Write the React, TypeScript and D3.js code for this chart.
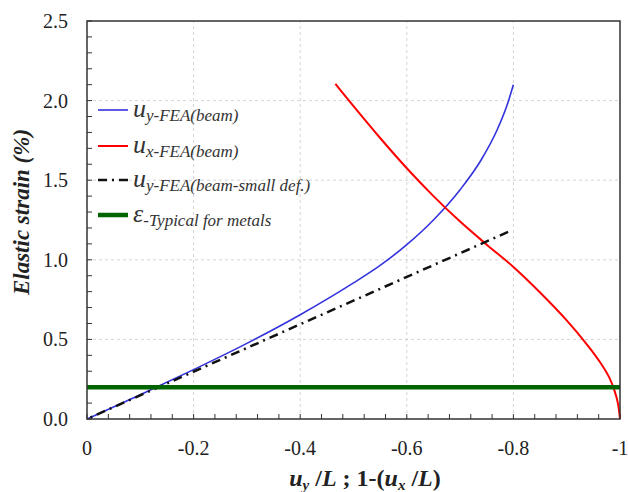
import { useEffect, useRef } from 'react';
import * as d3 from 'd3';

// u_y FEA (beam) - blue
const blueX = [0, -0.1, -0.2, -0.3, -0.4, -0.5, -0.55, -0.6, -0.65, -0.7, -0.74, -0.77, -0.79, -0.8];
const blueY = [0, 0.152, 0.31, 0.475, 0.655, 0.855, 0.965, 1.095, 1.25, 1.44, 1.63, 1.82, 1.99, 2.1];

// u_x FEA (beam) - red
const redX = [-0.466, -0.5, -0.55, -0.6, -0.65, -0.7, -0.75, -0.8, -0.85, -0.9, -0.94, -0.963, -0.98, -0.99, -0.996, -1];
const redY = [2.105, 1.965, 1.765, 1.575, 1.4, 1.24, 1.095, 0.955, 0.795, 0.62, 0.46, 0.355, 0.26, 0.175, 0.1, 0];

// u_y FEA (beam small def.) - dash dot
const smallX = [0, -0.79];
const smallY = [0, 1.175];

// typical elastic strain for metals
const metalX = [0, -1];
const metalY = [0.2, 0.2];

const xTicks = [0, -0.2, -0.4, -0.6, -0.8, -1];
const xTickLabels = ['0', '-0.2', '-0.4', '-0.6', '-0.8', '-1'];
const yTicks = [0, 0.5, 1.0, 1.5, 2.0, 2.5];
const yTickLabels = ['0.0', '0.5', '1.0', '1.5', '2.0', '2.5'];

const legendItems = [
    { sym: 'u', sub: 'y-FEA(beam)', color: '#3333dd', width: 1.6, dash: null },
    { sym: 'u', sub: 'x-FEA(beam)', color: '#ff0000', width: 2, dash: null },
    { sym: 'u', sub: 'y-FEA(beam-small def.)', color: '#111', width: 2.5, dash: '9,5,2,5' },
    { sym: 'ε', sub: '-Typical for metals', color: '#006400', width: 4.5, dash: null },
];

const W = 628, H = 492;
const margin = { top: 21, right: 8, bottom: 73, left: 87 };

const App = () => {
    const ref = useRef<SVGSVGElement>(null);

    useEffect(() => {
        const svg = d3.select(ref.current);
        svg.selectAll('*').remove();
        const serif = "'Liberation Serif', 'Times New Roman', Tinos, 'DejaVu Serif', 'Noto Serif', serif";

        const x = d3.scaleLinear().domain([0, -1]).range([margin.left, W - margin.right]);
        const y = d3.scaleLinear().domain([0, 2.5]).range([H - margin.bottom, margin.top]);

        // grid
        const grid = svg.append('g');
        grid.selectAll('line.gx')
            .data(xTicks.slice(1, -1))
            .enter().append('line')
            .attr('x1', d => x(d)).attr('x2', d => x(d))
            .attr('y1', y(0)).attr('y2', y(2.5))
            .attr('stroke', '#d4d4d4').attr('stroke-dasharray', '3,3');
        grid.selectAll('line.gy')
            .data(yTicks.slice(1, -1))
            .enter().append('line')
            .attr('x1', x(0)).attr('x2', x(-1))
            .attr('y1', d => y(d)).attr('y2', d => y(d))
            .attr('stroke', '#d4d4d4').attr('stroke-dasharray', '3,3');

        // minor ticks (inward)
        const xMinor = d3.range(0, 26).map(i => -i * 0.04);
        svg.append('g').selectAll('line')
            .data(xMinor)
            .enter().append('line')
            .attr('x1', d => x(d)).attr('x2', d => x(d))
            .attr('y1', y(0)).attr('y2', y(0) - 5)
            .attr('stroke', '#333').attr('stroke-width', 1);
        const yMinor = d3.range(0, 26).map(i => i * 0.1);
        svg.append('g').selectAll('line')
            .data(yMinor)
            .enter().append('line')
            .attr('x1', x(0)).attr('x2', x(0) + 5)
            .attr('y1', d => y(d)).attr('y2', d => y(d))
            .attr('stroke', '#333').attr('stroke-width', 1);

        // series
        const line = d3.line<[number, number]>()
            .x(d => x(d[0]))
            .y(d => y(d[1]))
            .curve(d3.curveMonotoneX);
        const smooth = d3.line<[number, number]>()
            .x(d => x(d[0]))
            .y(d => y(d[1]))
            .curve(d3.curveCatmullRom.alpha(0.5));

        // ascending x for the monotone curve
        const zip = (xs: number[], ys: number[]) =>
            xs.map((v, i) => [v, ys[i]] as [number, number]).sort((a, b) => a[0] - b[0]);

        svg.append('path').attr('d', line(zip(blueX, blueY)))
            .attr('fill', 'none').attr('stroke', '#3333dd').attr('stroke-width', 1.6);
        svg.append('path').attr('d', smooth(zip(redX, redY)))
            .attr('fill', 'none').attr('stroke', '#ff0000').attr('stroke-width', 2);
        svg.append('path').attr('d', line(zip(smallX, smallY)))
            .attr('fill', 'none').attr('stroke', '#111').attr('stroke-width', 2.5)
            .attr('stroke-dasharray', '9,5,2,5');
        svg.append('path').attr('d', line(zip(metalX, metalY)))
            .attr('fill', 'none').attr('stroke', '#006400').attr('stroke-width', 4.5);

        // frame
        svg.append('rect')
            .attr('x', x(0)).attr('y', y(2.5))
            .attr('width', x(-1) - x(0)).attr('height', y(0) - y(2.5))
            .attr('fill', 'none').attr('stroke', '#333').attr('stroke-width', 1.5);

        // tick labels
        svg.append('g').selectAll('text')
            .data(xTicks)
            .enter().append('text')
            .attr('x', d => x(d)).attr('y', 455)
            .attr('text-anchor', 'middle')
            .style('font-family', serif).attr('font-size', 20).attr('fill', '#222')
            .text((d, i) => xTickLabels[i]);
        svg.append('g').selectAll('text')
            .data(yTicks)
            .enter().append('text')
            .attr('x', 68).attr('y', d => y(d) + 7)
            .attr('text-anchor', 'end')
            .style('font-family', serif).attr('font-size', 20).attr('fill', '#222')
            .text((d, i) => yTickLabels[i]);

        // axis titles
        const xt = svg.append('text')
            .attr('x', 365).attr('y', 486)
            .attr('text-anchor', 'middle')
            .style('font-family', serif).attr('font-size', 24).attr('font-weight', 'bold').attr('fill', '#222');
        xt.append('tspan').attr('font-style', 'italic').text('u');
        xt.append('tspan').attr('font-style', 'italic').attr('font-size', 15).attr('dy', 4).text('y');
        xt.append('tspan').attr('dy', -4).text(' /');
        xt.append('tspan').attr('font-style', 'italic').text('L');
        xt.append('tspan').text(' ; 1-(');
        xt.append('tspan').attr('font-style', 'italic').text('u');
        xt.append('tspan').attr('font-style', 'italic').attr('font-size', 15).attr('dy', 4).text('x');
        xt.append('tspan').attr('dy', -4).text(' /');
        xt.append('tspan').attr('font-style', 'italic').text('L');
        xt.append('tspan').text(')');

        svg.append('text')
            .attr('transform', 'translate(29,212) rotate(-90)')
            .attr('text-anchor', 'middle')
            .style('font-family', serif).attr('font-size', 23)
            .attr('font-weight', 'bold').attr('font-style', 'italic').attr('fill', '#222')
            .text('Elastic strain (%)');

        // legend
        const legendY = [110, 146, 180, 215];
        const lg = svg.append('g');
        legendItems.forEach((item, i) => {
            const ly = legendY[i];
            lg.append('line')
                .attr('x1', 98).attr('x2', 128)
                .attr('y1', ly).attr('y2', ly)
                .attr('stroke', item.color).attr('stroke-width', item.width)
                .attr('stroke-dasharray', item.dash);
            const t = lg.append('text')
                .attr('x', 133).attr('y', ly + 7)
                .style('font-family', serif).attr('font-style', 'italic').attr('fill', '#333');
            t.append('tspan').attr('font-size', 26).text(item.sym);
            t.append('tspan').attr('font-size', 17).attr('dy', 4).text(item.sub);
        });
    }, []);

    return (
        <svg ref={ref} width={W} height={H}
            style={{ position: 'absolute', left: 0, top: 0, background: '#fff' }} />
    );
};

export default App;
